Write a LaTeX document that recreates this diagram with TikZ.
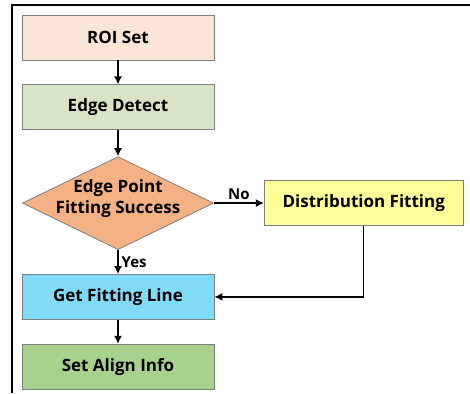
\documentclass[tikz,border=0pt]{standalone}
\usepackage{fontspec}
\setmainfont{Open Sans}
\usetikzlibrary{positioning,shapes.geometric,arrows.meta}

\definecolor{roicol}{HTML}{FBE5D6}
\definecolor{edgecol}{HTML}{D8E4C6}
\definecolor{fitcol}{HTML}{F4B183}
\definecolor{distcol}{HTML}{FFFF99}
\definecolor{getcol}{HTML}{80DAFA}
\definecolor{setcol}{HTML}{A9D18E}
\definecolor{rimcol}{HTML}{7F7F7F}

\begin{document}
\begin{tikzpicture}[
x=1pt,
y=-1pt,
stepbox/.style={
  draw=rimcol,
  rectangle,
  line width=0.8pt,
  minimum width=192pt,
  minimum height=45pt,
  font=\bfseries\fontsize{17}{21}\selectfont
  },
decision/.style={
  draw=rimcol,
  diamond,
  line width=0.8pt,
  inner sep=0pt,
  minimum width=191pt,
  minimum height=93pt,
  font=\bfseries\fontsize{17}{21.5}\selectfont
  },
tag/.style={
  font=\bfseries\fontsize{15}{17}\selectfont,
  inner sep=3pt
  },
flow/.style={
  ->,
  line width=1.3pt
  },
node distance=24pt,
>={Latex[length=8pt,width=8pt]}
]

\useasboundingbox (0,0) rectangle (470,393);
\draw[line width=1.3pt] (470,5) -| (12,393);

\node[stepbox, fill=roicol] (roi) at (118,37.5) {ROI Set};
\node[stepbox, fill=edgecol, below=of roi] (edge) {Edge Detect};
\node[decision, fill=fitcol, below=26pt of edge] (fit)
  {\smash{\makebox[0pt]{\parbox{5cm}{\centering Edge Point\\Fitting Success}}}};
\node[stepbox, fill=getcol, below=of fit] (getline) {Get Fitting Line};
\node[stepbox, fill=setcol, below=of getline] (setinfo) {Set Align Info};
\node[stepbox, fill=distcol, minimum width=199pt, right=50pt of fit] (dist)
  {Distribution Fitting};

\draw[flow] (roi) -- (edge);
\draw[flow] (edge) -- (fit);
\draw[flow] (fit) -- node[tag, right] {Yes} (getline);
\draw[flow] (fit) -- node[tag, above] {No} (dist);
\draw[flow] (getline) -- (setinfo);
\draw[flow] (dist.south) |- (getline.east);
\end{tikzpicture}
\end{document}
